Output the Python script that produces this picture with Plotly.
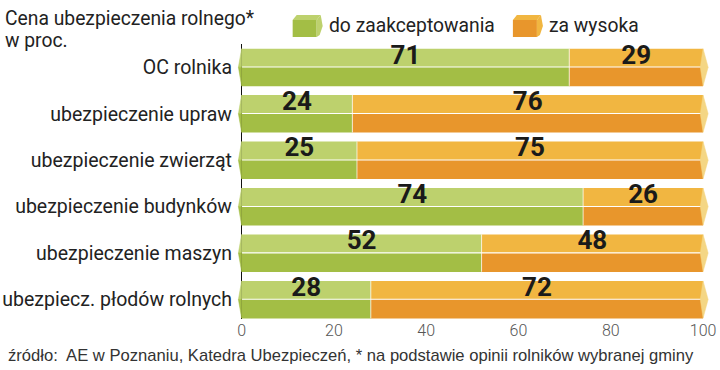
import plotly.graph_objects as go

categories = ["OC rolnika", "ubezpieczenie upraw", "ubezpieczenie zwierząt",
              "ubezpieczenie budynków", "ubezpieczenie maszyn", "ubezpiecz. płodów rolnych"]
acceptable = [71, 24, 25, 74, 52, 28]
too_high = [29, 76, 75, 26, 48, 72]
series_names = ["do zaakceptowania", "za wysoka"]
x_ticks = [0, 20, 40, 60, 80, 100]
title_lines = ["Cena ubezpieczenia rolnego*", "w proc."]
source = "źródło:  AE w Poznaniu, Katedra Ubezpieczeń, * na podstawie opinii rolników wybranej gminy"

G_LIGHT, G_DARK = "#bdd16d", "#a3be45"
O_LIGHT, O_DARK = "#f1b641", "#e8962c"
CAP = "#f4d684"

W, H = 720, 370
L, R, T, B = 237.4, 709.9, 44, 319
HALF = 0.4
GAP = 0.015

ys = list(range(len(categories)))
fig = go.Figure()

def halves(xvals, base, light, dark, name):
    fig.add_trace(go.Bar(y=ys, x=xvals, base=base, orientation="h", width=HALF - GAP,
                         offset=-HALF, marker=dict(color=light, line=dict(width=0)),
                         name=name, showlegend=False, hoverinfo="skip"))
    fig.add_trace(go.Bar(y=ys, x=xvals, base=base, orientation="h", width=HALF,
                         offset=GAP / 2, marker=dict(color=dark, line=dict(width=0)),
                         name=name, showlegend=False, hoverinfo="skip"))

halves(acceptable, [0] * len(ys), G_LIGHT, G_DARK, series_names[0])
halves(too_high, acceptable, O_LIGHT, O_DARK, series_names[1])

# thin separators between segments
sep_x, sep_y = [], []
for i, a in enumerate(acceptable):
    sep_x += [a, a, None]
    sep_y += [i - HALF, i + HALF, None]
fig.add_trace(go.Scatter(x=sep_x, y=sep_y, mode="lines", line=dict(color="rgba(255,255,255,0.7)", width=1),
                         showlegend=False, hoverinfo="skip"))

# left pointed ends (green) and right caps, one polygon trace per shape
tip = 0.7
for i, (a, o) in enumerate(zip(acceptable, too_high)):
    tot = a + o
    fig.add_trace(go.Scatter(x=[0, -tip, 0, 0], y=[i - HALF, i, i, i - HALF], fill="toself",
                             fillcolor=G_LIGHT, mode="lines", line=dict(width=0.5, color=G_LIGHT),
                             showlegend=False, hoverinfo="skip"))
    fig.add_trace(go.Scatter(x=[0, -tip, 0, 0], y=[i, i, i + HALF, i], fill="toself",
                             fillcolor=G_DARK, mode="lines", line=dict(width=0.5, color=G_DARK),
                             showlegend=False, hoverinfo="skip"))
    fig.add_trace(go.Scatter(x=[tot, tot + 1.1, tot, tot - 0.6, tot],
                             y=[i - HALF, i, i + HALF, i, i - HALF], fill="toself",
                             fillcolor=CAP, mode="lines", line=dict(width=0.5, color=CAP),
                             showlegend=False, hoverinfo="skip"))

# value labels in the top half
lab_x, lab_y, lab_t = [], [], []
for i, (a, o) in enumerate(zip(acceptable, too_high)):
    lab_x += [a / 2, a + o / 2]
    lab_y += [i - 0.22, i - 0.22]
    lab_t += [str(a), str(o)]
fig.add_trace(go.Scatter(x=lab_x, y=lab_y, text=lab_t, mode="text", textposition="middle center",
                         textfont=dict(family="Roboto, Liberation Sans, Arial", size=26, color="#1a1a1a",
                                       weight="bold"),
                         showlegend=False, hoverinfo="skip", cliponaxis=False))

def px(xp):
    return (xp - L) / (R - L)

def py(yp):
    return (B - yp) / (B - T)

FONT = "Roboto, Liberation Sans, Arial"
annotations = [
    dict(text=title_lines[0], x=px(4), y=py(18), xanchor="left", yanchor="middle"),
    dict(text=title_lines[1], x=px(4), y=py(41), xanchor="left", yanchor="middle"),
    dict(text=series_names[0], x=px(327), y=py(25), xanchor="left", yanchor="middle"),
    dict(text=series_names[1], x=px(547), y=py(25), xanchor="left", yanchor="middle"),
]
for a in annotations:
    a.update(xref="paper", yref="paper", showarrow=False,
             font=dict(family=FONT, size=19.3, color="#222"))
annotations.append(dict(text=source, x=px(7), y=py(355), xref="paper", yref="paper", xanchor="left",
                        yanchor="middle", showarrow=False,
                        font=dict(family="Liberation Sans, Arial", size=16.6, color="#333")))

shapes = []
def icon(x0, light, dark):
    x1 = x0 + 24
    shapes.append(dict(type="path", xref="paper", yref="paper", fillcolor=light, line=dict(width=0),
                       path=f"M{px(x0)},{py(20)} L{px(x0+4)},{py(15)} L{px(x1+4)},{py(15)} L{px(x1)},{py(20)} Z"))
    shapes.append(dict(type="rect", xref="paper", yref="paper", fillcolor=dark, line=dict(width=0),
                       x0=px(x0), x1=px(x1), y0=py(37), y1=py(20)))
    shapes.append(dict(type="path", xref="paper", yref="paper", fillcolor=light, line=dict(width=0),
                       path=f"M{px(x1)},{py(20)} L{px(x1+4)},{py(15)} L{px(x1+6)},{py(26)} L{px(x1+3)},{py(35)} L{px(x1)},{py(37)} Z"))
icon(293, G_LIGHT, G_DARK)
icon(513, O_LIGHT, O_DARK)

fig.update_layout(
    width=W, height=H, margin=dict(l=L, r=W - R, t=T, b=H - B, autoexpand=False),
    paper_bgcolor="white", plot_bgcolor="white", barmode="overlay",
    showlegend=False, annotations=annotations, shapes=shapes,
    xaxis=dict(range=[-1, 101.5], tickvals=x_ticks, ticktext=[str(v) for v in x_ticks],
               showgrid=False, zeroline=True, zerolinecolor="#111", zerolinewidth=1,
               ticks="", showline=False, automargin=False,
               tickfont=dict(family=FONT, size=16, color="#555", weight=300),
               fixedrange=True),
    yaxis=dict(range=[5.42, -0.5], tickvals=ys, ticktext=categories, showgrid=False, zeroline=False,
               ticks="", showline=False, ticklabelstandoff=4, automargin=False,
               tickfont=dict(family=FONT, size=19.5, color="#222"),
               fixedrange=True),
)

fig.write_html("out.html", config={"displayModeBar": False},
               post_script="document.body.style.margin='0';document.body.style.padding='0';")
